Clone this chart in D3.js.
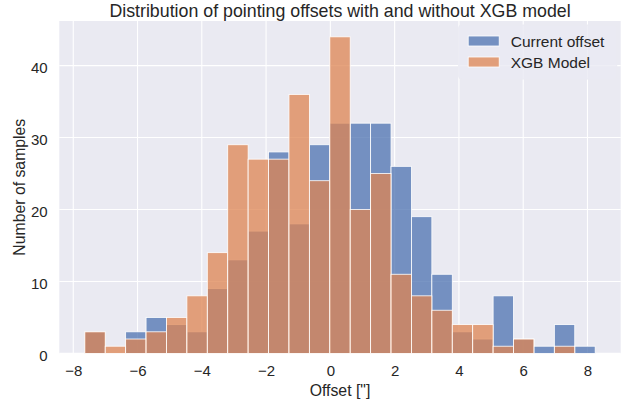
<!DOCTYPE html>
<html>
<head>
<meta charset="utf-8">
<script src="https://cdn.jsdelivr.net/npm/d3@7"></script>
<style>
  body { margin: 0; background: #fff; }
  text { font-family: "Liberation Sans", Arial, sans-serif; fill: #262626; }
</style>
</head>
<body>
<svg id="chart" width="631" height="403"></svg>
<script>
// histogram bins shared by both series
var bin_start = -7.64;
var bin_width = 0.6352;

// counts per bin
var current_counts = [3, 0, 3, 5, 4, 3, 9, 13, 17, 28, 18, 29, 32, 32, 32, 26, 19, 11, 3, 2, 8, 2, 1, 4, 1];
var xgb_counts     = [3, 1, 2, 3, 5, 8, 14, 29, 27, 27, 36, 24, 44, 20, 25, 11, 8, 6, 4, 4, 1, 2, 0, 1, 0];

var series_names = ["Current offset", "XGB Model"];
var series_colors = ["#4C72B0", "#DD8452"];
var x_ticks = [-8, -6, -4, -2, 0, 2, 4, 6, 8];
var y_ticks = [0, 10, 20, 30, 40];

var margin = {top: 21, right: 10.3, bottom: 49.6, left: 59.3};
var width = 631 - margin.left - margin.right,
    height = 403 - margin.top - margin.bottom;

var svg = d3.select("#chart");
var g = svg.append("g")
    .attr("transform", "translate(" + margin.left + "," + margin.top + ")");

var lo = bin_start,
    hi = bin_start + bin_width * current_counts.length,
    pad = (hi - lo) * 0.05;

var x = d3.scaleLinear().domain([lo - pad, hi + pad]).range([0, width]);
var y_max = d3.max(current_counts.concat(xgb_counts)) * 1.05;
var y = d3.scaleLinear().domain([0, y_max]).range([height, 0]);

// background + grid
g.append("rect")
  .attr("width", width).attr("height", height)
  .attr("fill", "#EAEAF2");

g.selectAll(".vgrid").data(x_ticks).enter().append("line")
  .attr("x1", function(d) { return x(d); }).attr("x2", function(d) { return x(d); })
  .attr("y1", 0).attr("y2", height)
  .attr("stroke", "#fff").attr("stroke-width", 1.1);

g.selectAll(".hgrid").data(y_ticks).enter().append("line")
  .attr("x1", 0).attr("x2", width)
  .attr("y1", function(d) { return y(d); }).attr("y2", function(d) { return y(d); })
  .attr("stroke", "#fff").attr("stroke-width", 1.1);

// bars: blue layer first, orange drawn on top of it
[current_counts, xgb_counts].forEach(function(counts, k) {
  var layer = g.append("g");
  counts.forEach(function(c, i) {
    if (c <= 0) return;
    layer.append("rect")
      .attr("x", x(bin_start + i * bin_width))
      .attr("width", x(bin_width) - x(0))
      .attr("y", y(c))
      .attr("height", height - y(c))
      .attr("fill", series_colors[k])
      .attr("fill-opacity", 0.75)
      .attr("stroke", "#fff")
      .attr("stroke-width", 0.8);
  });
});

// axes (labels only, seaborn darkgrid style)
var xAxis = g.append("g")
  .attr("transform", "translate(0," + height + ")")
  .call(d3.axisBottom(x).tickValues(x_ticks).tickSize(0).tickPadding(11.5).tickFormat(d3.format("d")));
xAxis.select(".domain").remove();
xAxis.selectAll("text").style("font-size", "15px").attr("fill", "#262626");

var yAxis = g.append("g")
  .call(d3.axisLeft(y).tickValues(y_ticks).tickSize(0).tickPadding(11.6));
yAxis.select(".domain").remove();
yAxis.selectAll("text").style("font-size", "15px").attr("fill", "#262626")
  .attr("dy", "0.45em");

// titles
svg.append("text")
  .attr("x", margin.left + width / 2).attr("y", 16.5)
  .attr("text-anchor", "middle")
  .style("font-size", "17.8px")
  .text("Distribution of pointing offsets with and without XGB model");

svg.append("text")
  .attr("x", margin.left + width / 2).attr("y", 395.5)
  .attr("text-anchor", "middle")
  .style("font-size", "15.8px")
  .text("Offset [\"]");

svg.append("text")
  .attr("transform", "translate(25," + (margin.top + height / 2) + ") rotate(-90)")
  .attr("text-anchor", "middle")
  .style("font-size", "15.8px")
  .text("Number of samples");

// legend
var legend = g.append("g").attr("transform", "translate(" + (width - 162) + ",4)");
legend.append("rect")
  .attr("width", 158).attr("height", 54).attr("rx", 3)
  .attr("fill", "#EAEAF2").attr("fill-opacity", 0.8)
  .attr("stroke", "#EAEAF2");
series_names.forEach(function(name, k) {
  legend.append("rect")
    .attr("x", 9.5).attr("y", 11 + k * 21)
    .attr("width", 31).attr("height", 10)
    .attr("fill", series_colors[k]).attr("fill-opacity", 0.75)
    .attr("stroke", "#fff").attr("stroke-width", 0.8);
  legend.append("text")
    .attr("x", 52).attr("y", 21.5 + k * 21)
    .style("font-size", "15.5px")
    .text(name);
});
</script>
</body>
</html>
